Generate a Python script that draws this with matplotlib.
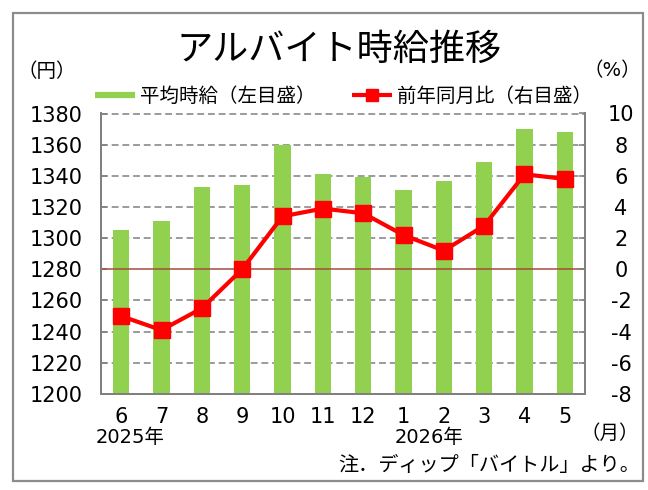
import matplotlib
matplotlib.use("Agg")
import matplotlib.pyplot as plt
from matplotlib.lines import Line2D
from matplotlib.patches import Rectangle
import matplotlib.transforms as mtransforms

plt.rcParams['font.family'] = ['DejaVu Sans', 'Noto Sans CJK JP']
plt.rcParams['axes.unicode_minus'] = False

months = ['6', '7', '8', '9', '10', '11', '12', '1', '2', '3', '4', '5']
wage = [1305, 1311, 1333, 1334, 1360, 1341, 1339, 1331, 1337, 1349, 1370, 1368]
yoy = [-3.0, -3.9, -2.5, 0.0, 3.4, 3.9, 3.6, 2.2, 1.2, 2.8, 6.1, 5.8]
left_ticks = [1200, 1220, 1240, 1260, 1280, 1300, 1320, 1340, 1360, 1380]
right_ticks = [-8, -6, -4, -2, 0, 2, 4, 6, 8, 10]
years = [('2025年', 0.22), ('2026年', 7.64)]

GREEN = '#92D050'
RED = '#FF0000'
GREY = '#808080'

fig = plt.figure(figsize=(6.48, 4.90), dpi=100)
fig.patches.append(Rectangle((13/648, 1-481/490), (643-13)/648, (481-13)/490,
                             transform=fig.transFigure, fill=False,
                             edgecolor='#8C8C8C', linewidth=1.6))

ax = fig.add_axes([101/648, 1-394/490, (585-101)/648, (394-113.5)/490])
x = list(range(len(months)))
ax.bar(x, wage, width=0.4, color=GREEN, zorder=2)
ax.set_xlim(-0.5, len(months)-0.5)
ax.set_ylim(1200, 1380)
ax.set_yticks(left_ticks)
ax.set_xticks(x)
ax.set_xticklabels(months)
for t in left_ticks[1:]:
    if t == 1280:
        continue
    ax.axhline(t, color=GREY, lw=1.1, ls=(0, (4.5, 2.5)), zorder=1)
ax.tick_params(axis='y', direction='in', length=4, color=GREY, width=1.1,
               labelsize=15, pad=13)
ax.tick_params(axis='x', length=0, labelsize=15, pad=9)
for s in ['left', 'right', 'bottom']:
    ax.spines[s].set_color(GREY)
    ax.spines[s].set_linewidth(1.4)
ax.spines['top'].set_visible(False)

ax2 = ax.twinx()
ax2.set_ylim(-8, 10)
ax2.set_yticks(right_ticks)
ax2.axhline(0, color='#A64D3D', lw=1.1, zorder=1)
ax2.plot(x, yoy, color=RED, lw=3, marker='s', markersize=11,
         markeredgecolor=RED, zorder=3)
ax2.tick_params(axis='y', direction='in', length=4, color=GREY, width=1.1,
                labelsize=15, pad=26)
for lbl in ax2.get_yticklabels():
    lbl.set_horizontalalignment('center')
for s in ['left', 'right', 'bottom']:
    ax2.spines[s].set_color(GREY)
    ax2.spines[s].set_linewidth(1.4)
ax2.spines['top'].set_visible(False)

fig.text(339/648, 1-50/490, 'アルバイト時給推移', fontsize=26, ha='center', va='center')
fig.text(47/648, 1-71.5/490, '（円）', fontsize=14, ha='center', va='center')
fig.text(612/648, 1-71/490, '（%）', fontsize=14, ha='center', va='center')

handles = [Line2D([], [], color=GREEN, lw=4.5, solid_capstyle='butt'),
           Line2D([], [], color=RED, lw=3, marker='s', markersize=8.5,
                  markeredgecolor=RED, solid_capstyle='butt')]
fig.legend(handles, ['平均時給（左目盛）', '前年同月比（右目盛）'],
           loc='center', bbox_to_anchor=(343.5/648, 1-96/490), ncol=2,
           frameon=False, fontsize=14, handlelength=2.05, handletextpad=0.25,
           columnspacing=1.9, borderpad=0, borderaxespad=0)

trans = mtransforms.blended_transform_factory(ax.transData, fig.transFigure)
for label, xpos in years:
    ax.text(xpos, 1-437/490, label, transform=trans, fontsize=14,
            ha='center', va='center')
fig.text(610/648, 1-433/490, '（月）', fontsize=14, ha='center', va='center')
fig.text(640/648, 1-465/490, '注．ディップ「バイトル」より。', fontsize=14.5,
         ha='right', va='center')

fig.savefig('out.png', dpi=100)
